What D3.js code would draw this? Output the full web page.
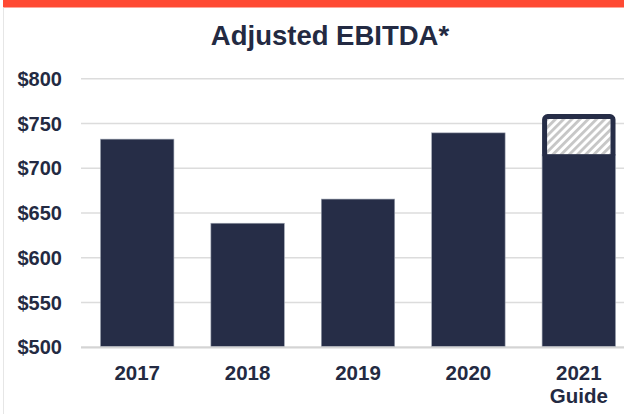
<!DOCTYPE html>
<html><head><meta charset="utf-8">
<script src="https://cdn.jsdelivr.net/npm/d3@7"></script>
<style>html,body{margin:0;padding:0;background:#fff;}svg{display:block;}</style>
</head><body>
<svg id="c" width="624" height="414"></svg>
<script>
const categories = ["2017", "2018", "2019", "2020", "2021\nGuide"];
const values = [732, 638, 665, 739, 715];
const guideRange = [715, 760];
const yTicks = [500, 550, 600, 650, 700, 750, 800];
const title = "Adjusted EBITDA*";

const svg = d3.select("#c");
const W = 624, H = 414;
const navy = "#262d47", textCol = "#232a42";
const font = "'Liberation Sans', Arial, Helvetica, sans-serif";

// top red band and left border
svg.append("rect").attr("x", 3).attr("y", 0).attr("width", W - 3).attr("height", 7.5).attr("fill", "#ff4a33");
svg.append("line").attr("x1", 3.5).attr("x2", 3.5).attr("y1", 7.5).attr("y2", H).attr("stroke", "#e6e6e6").attr("stroke-width", 1);

const x = d3.scaleBand().domain(categories).range([82, 634]).paddingInner(0.335).paddingOuter(0.1675);
const y = d3.scaleLinear().domain([500, 800]).range([346.7, 78.3]);

// gridlines via axis
const grid = svg.append("g").attr("transform", "translate(81,0)")
  .call(d3.axisLeft(y).tickValues(yTicks).tickSize(-(W - 81)).tickFormat(""));
grid.select(".domain").remove();
grid.selectAll(".tick line").attr("stroke", "#dcdcdc").attr("stroke-width", 1.6);

// y labels
const yl = svg.append("g").attr("transform", "translate(62,0)")
  .call(d3.axisLeft(y).tickValues(yTicks).tickSize(0).tickPadding(0).tickFormat(d => "$" + d));
yl.select(".domain").remove();
yl.selectAll("text").attr("font-family", font).attr("font-weight", "bold").attr("font-size", "20px").attr("fill", textCol).attr("dy", "0.36em");

// pattern
const defs = svg.append("defs");
const pat = defs.append("pattern").attr("id", "hatch").attr("patternUnits", "userSpaceOnUse")
  .attr("width", 5.8).attr("height", 5.8).attr("patternTransform", "rotate(45)");
pat.append("rect").attr("width", 5.8).attr("height", 5.8).attr("fill", "#ffffff");
pat.append("rect").attr("width", 2.8).attr("height", 5.8).attr("fill", "#c6c6c6");

// bars
svg.append("g").selectAll("rect").data(categories).join("rect")
  .attr("x", d => x(d)).attr("width", x.bandwidth())
  .attr("y", (d, i) => y(values[i])).attr("height", (d, i) => y(500) - y(values[i]))
  .attr("fill", navy).attr("stroke", "#9aa0ae").attr("stroke-width", 0.6);

// guide range box
const g = categories[4];
const sw = 5;
svg.append("rect").attr("x", x(g) + sw).attr("width", x.bandwidth() - 2 * sw)
  .attr("y", y(guideRange[1]) + sw).attr("height", y(guideRange[0]) - y(guideRange[1]) - sw)
  .attr("fill", "url(#hatch)");
svg.append("rect").attr("x", x(g) + sw / 2).attr("width", x.bandwidth() - sw)
  .attr("y", y(guideRange[1]) + sw / 2).attr("height", y(guideRange[0]) - y(guideRange[1]))
  .attr("rx", 3).attr("fill", "none").attr("stroke", navy).attr("stroke-width", sw);

// baseline
svg.append("line").attr("x1", 81).attr("x2", W).attr("y1", y(500) + 0.8).attr("y2", y(500) + 0.8)
  .attr("stroke", "#d4d4d4").attr("stroke-width", 1.8);

// x labels
const xl = svg.append("g");
categories.forEach(c => {
  const t = xl.append("text").attr("x", x(c) + x.bandwidth() / 2).attr("y", 379.5)
    .attr("text-anchor", "middle").attr("font-family", font).attr("font-weight", "bold")
    .attr("font-size", "20.5px").attr("fill", textCol);
  c.split("\n").forEach((line, i) => {
    t.append("tspan").attr("x", x(c) + x.bandwidth() / 2).attr("dy", i === 0 ? 0 : 23).text(line);
  });
});

// title
svg.append("text").attr("x", 330).attr("y", 45).attr("text-anchor", "middle")
  .attr("font-family", font).attr("font-weight", "bold").attr("font-size", "27.5px")
  .attr("fill", textCol).text(title);
</script>
</body></html>
